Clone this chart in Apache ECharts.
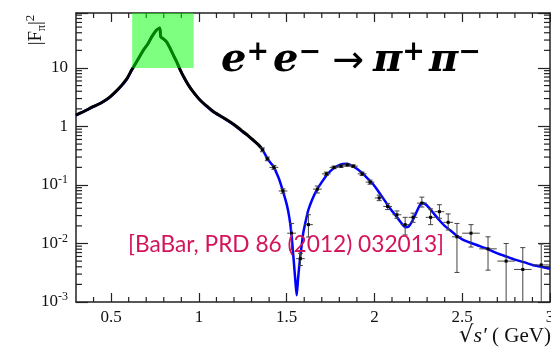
<!DOCTYPE html>
<html><head><meta charset="utf-8">
<script src="https://cdn.jsdelivr.net/npm/echarts@6/dist/echarts.min.js"></script>
<style>html,body{margin:0;padding:0;background:#fff}#c{width:551px;height:354px}</style>
</head><body><div id="c"></div>
<script>
// ---- data ----
const fitX = [0.30,0.36,0.44,0.49,0.55,0.59,0.617,0.65,0.683,0.71,0.731,0.76,0.777,0.783,0.80,0.816,0.835,0.854,0.875,0.892,0.921,0.95,0.98,1.006,1.04,1.08,1.13,1.177,1.215,1.251,1.28,1.308,1.335,1.359,1.388,1.41,1.424,1.455,1.479,1.50,1.515,1.527,1.54,1.55,1.557,1.565,1.575,1.585,1.594,1.607,1.623,1.645,1.671,1.70,1.73,1.76,1.79,1.82,1.845,1.87,1.90,1.93,1.96,1.99,2.02,2.045,2.07,2.10,2.125,2.15,2.175,2.195,2.215,2.235,2.255,2.27,2.29,2.31,2.34,2.37,2.40,2.43,2.47,2.50,2.55,2.60,2.65,2.70,2.75,2.80,2.85,2.90,2.95,3.00];
const fitY = [1.55,1.9,2.5,3.1,4.6,6.4,9.2,13.5,20,26,34,45,48,34,31,28,22,16.7,12.5,9.5,6.4,4.6,3.5,2.84,2.25,1.79,1.45,1.18,0.98,0.80,0.69,0.58,0.50,0.42,0.29,0.235,0.21,0.13,0.078,0.047,0.028,0.0148,0.0052,0.0022,0.0013,0.0025,0.0052,0.009,0.0148,0.023,0.037,0.056,0.082,0.112,0.15,0.185,0.212,0.228,0.23,0.215,0.19,0.16,0.13,0.105,0.08,0.062,0.048,0.036,0.029,0.023,0.019,0.0195,0.024,0.032,0.043,0.049,0.047,0.041,0.032,0.025,0.020,0.017,0.0135,0.0118,0.0102,0.009,0.0079,0.0068,0.006,0.0053,0.0048,0.0043,0.0040,0.0037];

const denseX = [0.30,0.33,0.36,0.40,0.44,0.49,0.52,0.55,0.57,0.59,0.617,0.65,0.683,0.71,0.731,0.76,0.777,0.783,0.80,0.816,0.835,0.854,0.875,0.892,0.921,0.95,0.98,1.006,1.04,1.08,1.13,1.177,1.215,1.251,1.28,1.308,1.335,1.355];
const denseY = [1.57,1.72,1.91,2.2,2.5,3.15,3.8,4.7,5.5,6.6,9.2,13.5,20,26,34,45,48,34,31,28,22,16.7,12.5,9.5,6.4,4.6,3.5,2.84,2.3,1.82,1.47,1.2,1.0,0.82,0.70,0.59,0.50,0.43];

const ptX    = [1.362,1.39,1.427,1.479,1.528,1.578,1.624,1.675,1.726,1.77,1.81,1.845,1.88,1.93,1.975,2.027,2.075,2.128,2.175,2.22,2.27,2.32,2.37,2.42,2.47,2.55,2.647,2.75,2.845,2.95];
const ptY    = [0.40,0.28,0.20,0.079,0.015,0.0055,0.021,0.085,0.155,0.20,0.21,0.22,0.21,0.155,0.112,0.060,0.043,0.031,0.021,0.028,0.049,0.028,0.035,0.023,0.013,0.015,0.0081,0.005,0.0036,0.0043];
const ptLo   = [0.37,0.26,0.185,0.072,0.0078,0.0042,0.0129,0.073,0.145,0.19,0.20,0.21,0.20,0.145,0.103,0.054,0.038,0.027,0.014,0.023,0.042,0.021,0.027,0.017,0.0032,0.0087,0.0035,0.0004,0.0004,0.0004];
const ptHi   = [0.43,0.30,0.215,0.086,0.022,0.0068,0.031,0.096,0.166,0.21,0.22,0.23,0.22,0.166,0.121,0.067,0.048,0.036,0.028,0.033,0.062,0.039,0.046,0.032,0.022,0.021,0.013,0.010,0.0085,0.0098];
const ptXerr = [0.012,0.012,0.025,0.025,0.025,0.025,0.025,0.025,0.025,0.025,0.025,0.025,0.025,0.025,0.025,0.025,0.025,0.025,0.025,0.025,0.028,0.028,0.028,0.028,0.028,0.05,0.05,0.05,0.05,0.05];

const boxX = [0.62, 0.97];
const boxY = [10, 87];

const xMajorTicks = [0.5,1,1.5,2,2.5,3];
const xMinorTicks = [0.4,0.6,0.7,0.8,0.9,1.1,1.2,1.3,1.4,1.6,1.7,1.8,1.9,2.1,2.2,2.3,2.4,2.6,2.7,2.8,2.9];
const yMinorTicks = [0.002,0.003,0.004,0.005,0.006,0.007,0.008,0.009,0.02,0.03,0.04,0.05,0.06,0.07,0.08,0.09,0.2,0.3,0.4,0.5,0.6,0.7,0.8,0.9,2,3,4,5,6,7,8,9,20,30,40,50,60,70,80];

const X_MIN = 0.3, X_MAX = 3.0, Y_MIN = 0.001, Y_MAX = 87;

const citeText = "[BaBar, PRD 86 (2012) 032013]";
// ---- chart ----
const chart = echarts.init(document.getElementById('c'), null, {renderer:'canvas'});
const serif = 'Liberation Serif';
const frame = {color:'#222', width:1.5};

function xAxisDef(pos, label){
  return {type:'value', gridIndex:0, position:pos, min:X_MIN, max:X_MAX,
    axisLine:{show:true, onZero:false, lineStyle:frame},
    axisTick:{show:true, inside:true, length:9, customValues:xMajorTicks, lineStyle:{color:'#222', width:1.2}},
    axisLabel:label ? {show:true, customValues:xMajorTicks, fontFamily:serif, fontSize:17, color:'#111', margin:7,
        formatter:v => String(v)} : {show:false},
    splitLine:{show:false}};
}
function yAxisDef(pos, label){
  const ax = {type:'log', logBase:10, gridIndex:0, position:pos, min:Y_MIN, max:Y_MAX,
    axisLine:{show:true, onZero:false, lineStyle:frame},
    axisTick:{show:true, inside:true, length:12, lineStyle:{color:'#222', width:1.2}},
    axisLabel:{show:false}, splitLine:{show:false}, minorTick:{show:false}};
  if (label) ax.axisLabel = {show:true, fontFamily:serif, fontSize:17, color:'#111', margin:8, lineHeight:22,
    formatter:function(v){
      const l = Math.log10(v), e = Math.round(l);
      if (Math.abs(l-e) > 1e-6) return '';
      if (e === 0) return '1';
      if (e === 1) return '10';
      return '10{s|' + e + '}';
    },
    rich:{s:{fontFamily:serif, fontSize:12, color:'#111', verticalAlign:'top', lineHeight:12}}};
  return ax;
}
function tickLine(x1,y1,x2,y2){
  return {type:'line', shape:{x1:x1, y1:y1, x2:x2, y2:y2}, style:{stroke:'#222', lineWidth:1.2}};
}

const option = {
  animation:false,
  backgroundColor:'#fff',
  grid:[{left:76, right:1, top:13, bottom:52, containLabel:false, outerBoundsMode:'none'}],
  xAxis:[xAxisDef('bottom',true), xAxisDef('top',false)],
  yAxis:[yAxisDef('left',true), yAxisDef('right',false)],
  graphic:[
    {type:'text', left:221, top:39, z:20, style:{
      text:'{b|e}{p|+}{b|e}{p|−}{a|→}{b|π}{p|+}{b|π}{p|−}',
      rich:{
        b:{fontFamily:'DejaVu Serif', fontSize:40, fontStyle:'italic', fontWeight:'bold', fill:'#000', lineHeight:42, verticalAlign:'bottom'},
        p:{fontFamily:'DejaVu Serif', fontSize:27, fontWeight:'bold', fill:'#000', lineHeight:22, verticalAlign:'top', padding:[0,4,0,0]},
        a:{fontFamily:'DejaVu Sans', fontSize:38, fill:'#000', lineHeight:42, verticalAlign:'bottom', padding:[0,9,0,7]}
      }}},
    {type:'text', left:128, top:233, z:20, style:{text:citeText, fontFamily:'Lato', fontSize:22.7, fill:'#d4145a'}},
    {type:'text', right:0, top:325, z:20, style:{text:'{r|√}{i|s′} ( GeV)', fontFamily:serif, fontSize:21, fill:'#111',
      rich:{r:{fontFamily:'DejaVu Serif', fontSize:23, fill:'#111'}, i:{fontFamily:serif, fontStyle:'italic', fontSize:22, fill:'#111'}}}},
    {type:'text', x:36, y:30, rotation:Math.PI/2, z:20, style:{
      text:'|F{sub|π}|{sup|2}', textAlign:'center', textVerticalAlign:'middle',
      rich:{
        sub:{fontFamily:serif, fontSize:12, fill:'#111', verticalAlign:'bottom', lineHeight:12},
        sup:{fontFamily:serif, fontSize:13, fill:'#111', verticalAlign:'top', lineHeight:12}
      }, fontFamily:serif, fontSize:19, fill:'#111', lineHeight:24}}
  ],
  series:[
    {type:'line', z:2, showSymbol:false, symbol:'none', smooth:0.2,
      data:fitX.map((x,i)=>[x, fitY[i]]), lineStyle:{color:'#0000ff', width:2.5}},
    {type:'line', z:3, showSymbol:false, symbol:'none', smooth:0.2,
      data:denseX.map((x,i)=>[x, denseY[i]]), lineStyle:{color:'#000', width:3}},
    {type:'custom', z:4, clip:true,
      data:ptX.map((x,i)=>[x, ptY[i], ptLo[i], ptHi[i], ptXerr[i]]),
      encode:{x:0, y:1},
      renderItem:function(params, api){
        const x = api.value(0), y = api.value(1), lo = api.value(2), hi = api.value(3), xe = api.value(4);
        const c = api.coord([x,y]);
        const pl = api.coord([x-xe,y]), pr = api.coord([x+xe,y]);
        const pb = api.coord([x,lo]), pt = api.coord([x,hi]);
        const st = () => ({stroke:'#444', lineWidth:1});
        return {type:'group', children:[
          {type:'line', shape:{x1:pl[0], y1:c[1], x2:pr[0], y2:c[1]}, style:st()},
          {type:'line', shape:{x1:c[0], y1:pb[1], x2:c[0], y2:pt[1]}, style:st()},
          {type:'line', shape:{x1:c[0]-2.5, y1:pb[1], x2:c[0]+2.5, y2:pb[1]}, style:st()},
          {type:'line', shape:{x1:c[0]-2.5, y1:pt[1], x2:c[0]+2.5, y2:pt[1]}, style:st()},
          {type:'rect', shape:{x:c[0]-1.5, y:c[1]-1.5, width:3, height:3}, style:{fill:'#000'}}
        ]};
      }},
    // minor ticks on x (bottom + top), placed through the axis scale
    {type:'custom', z:5, clip:false,
      data:xMinorTicks.map(v=>[v, 1]), encode:{x:0, y:1},
      renderItem:function(params, api){
        const p = api.coord([api.value(0), 1]);
        const cs = params.coordSys, top = cs.y, bot = cs.y + cs.height;
        return {type:'group', children:[tickLine(p[0], bot, p[0], bot-5), tickLine(p[0], top, p[0], top+5)]};
      }},
    // minor ticks on log y (left + right)
    {type:'custom', z:5, clip:false,
      data:yMinorTicks.map(v=>[1, v]), encode:{x:0, y:1},
      renderItem:function(params, api){
        const p = api.coord([1, api.value(1)]);
        const cs = params.coordSys, l = cs.x, r = cs.x + cs.width;
        return {type:'group', children:[tickLine(l, p[1], l+6, p[1]), tickLine(r, p[1], r-6, p[1])]};
      }},
    {type:'line', z:10, data:[],
      markArea:{silent:true, z:10, itemStyle:{color:'rgba(0,255,0,0.5)'},
        data:[[{coord:[boxX[0], boxY[0]]},{coord:[boxX[1], boxY[1]]}]]}}
  ]
};
chart.setOption(option);
</script></body></html>
